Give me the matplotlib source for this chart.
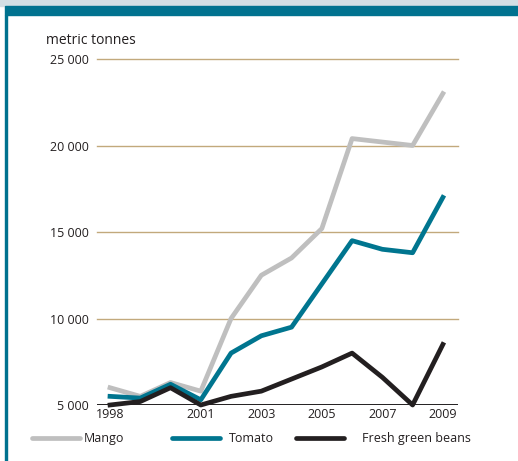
import matplotlib.pyplot as plt
from matplotlib.patches import Rectangle
from matplotlib.lines import Line2D

# -------------------------------
# Data
# -------------------------------
years = [1998, 1999, 2000, 2001, 2002, 2003, 2004, 2005, 2006, 2007, 2008, 2009]
mango = [6000, 5500, 6300, 5800, 10000, 12500, 13500, 15200, 20400, 20200, 20000, 23000]
tomato = [5500, 5400, 6200, 5300, 8000, 9000, 9500, 12000, 14500, 14000, 13800, 17000]
beans = [5000, 5200, 6000, 5000, 5500, 5800, 6500, 7200, 8000, 6600, 5000, 8500]
xticks = [1998, 2001, 2003, 2005, 2007, 2009]
yticks = [5000, 10000, 15000, 20000, 25000]

plt.rcParams['font.family'] = ['Open Sans', 'DejaVu Sans']

W, H = 518, 461
fig = plt.figure(figsize=(W / 100, H / 100), dpi=100)
fig.patch.set_facecolor("white")

# frame decoration
fig.patches.append(Rectangle((0, 1 - 6 / H), 1, 6 / H, transform=fig.transFigure,
                             color="#d3dfe4", zorder=0))
fig.patches.append(Rectangle((5 / W, 1 - 15 / H), 1, 9 / H, transform=fig.transFigure,
                             color="#00728f", zorder=0))
fig.patches.append(Rectangle((5 / W, 0), 2 / W, 1 - 15 / H, transform=fig.transFigure,
                             color="#00728f", zorder=0))

ax = fig.add_axes([97 / W, 56 / H, 361 / W, 346 / H])
ax.set_xlim(1997.57, 2009.5)
ax.set_ylim(5000, 25000)

for y in yticks[1:]:
    ax.axhline(y, color="#c2a97c", lw=1.0, zorder=1, clip_on=False)
ax.axhline(5000, color="#231f20", lw=1.4, zorder=5)

ax.plot(years, mango, color="#bfbfbf", lw=3.4, zorder=2, clip_on=False, label="Mango")
ax.plot(years, tomato, color="#00758f", lw=3.4, zorder=3, clip_on=False, label="Tomato")
ax.plot(years, beans, color="#231f20", lw=3.4, zorder=4, clip_on=False,
        label="Fresh green beans")

for s in ax.spines.values():
    s.set_visible(False)
ax.set_xticks(xticks)
ax.set_xticklabels([str(x) for x in xticks])
ax.set_yticks(yticks)
ax.set_yticklabels([f"{y:,}".replace(",", " ") for y in yticks])
ax.tick_params(length=0, labelsize=9, colors="#231f20")
ax.tick_params(axis="x", pad=2)
ax.tick_params(axis="y", pad=6)

fig.text(46 / W, 1 - 41 / H, "metric tonnes", fontsize=10, color="#231f20", va="center")

# legend drawn manually below the plot
items = [("Mango", "#bfbfbf", 32, 84), ("Tomato", "#00758f", 172, 229),
         ("Fresh green beans", "#231f20", 296, 362)]
ly = 1 - 438 / H
for name, col, x0, tx in items:
    fig.add_artist(Line2D([x0 / W, (x0 + 48) / W], [ly, ly], color=col, lw=3.4,
                          solid_capstyle="round", transform=fig.transFigure))
    fig.text(tx / W, ly, name, fontsize=9, color="#231f20", va="center")

plt.savefig("out.png", dpi=100)
